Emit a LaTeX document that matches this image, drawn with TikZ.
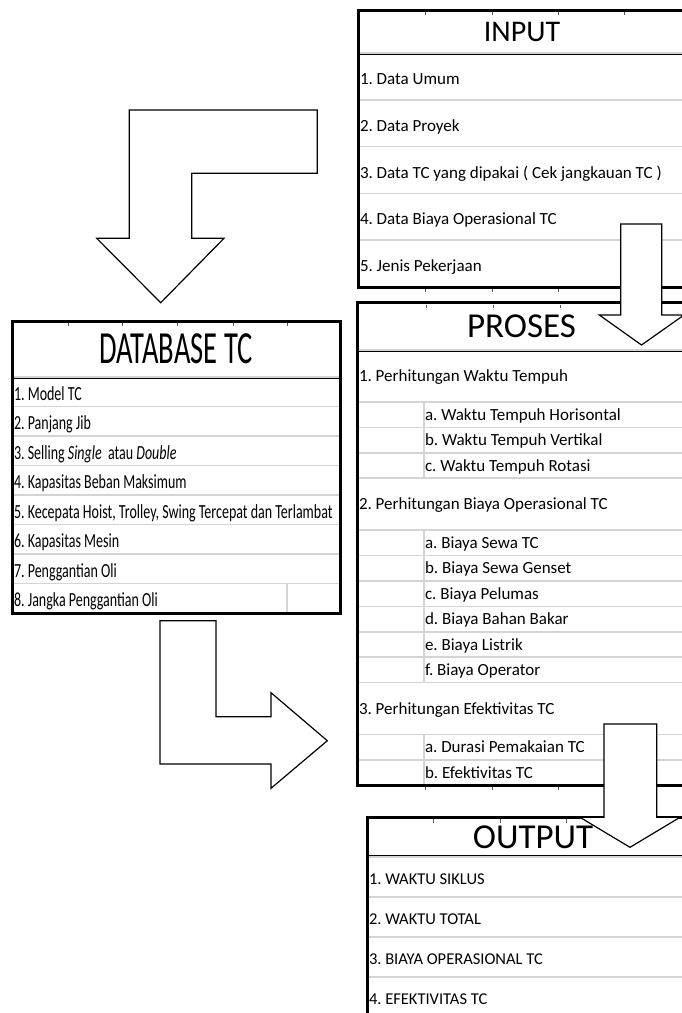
\documentclass[tikz,border=0pt]{standalone}
\usepackage{fontspec}
\setmainfont{Carlito}
\newfontfamily\dbfont[FakeStretch=0.62]{Carlito}
\newfontfamily\dbrowfont[FakeStretch=0.70]{Carlito}
\usepackage{xcolor}
\usetikzlibrary{positioning}
\definecolor{gridgray}{RGB}{212,212,212}
\definecolor{tickgray}{RGB}{90,90,90}

\begin{document}
\frenchspacing
\begin{tikzpicture}[x=1pt, y=-1pt, node distance = 0pt,
  cell/.style={outer sep=0pt, inner xsep=2pt, inner ysep=0pt, align=flush left},
  row/.style={cell, draw=gridgray, line width=1.6pt},
  head/.style={cell, draw=black, line width=3pt, align=flush center, anchor=north west},
  frame/.style={draw=black, line width=3pt},
  gridline/.style={draw=gridgray, line width=1.6pt},
  tick/.style={draw=tickgray, line width=0.8pt},
  bigarrow/.style={draw=black, fill=white, line width=1.2pt, line join=miter},
  inrow/.style={row, text width=324pt, minimum height=46.8pt, font=\fontsize{17}{20}\selectfont, text height=17pt, text depth=1pt},
  dbrow/.style={row, text width=324pt, minimum height=29.5pt, font=\dbrowfont\fontsize{20}{24}\selectfont, text height=18pt, text depth=1pt},
  prow/.style={row, text width=325pt, minimum height=52pt, font=\fontsize{17}{20}\selectfont, text height=14pt, text depth=3pt},
  psub/.style={prow, minimum height=25.4pt, execute at begin node=\hspace*{66pt}},
  outrow/.style={row, text width=328pt, minimum height=40pt, font=\fontsize{16.5}{20}\selectfont, text height=17pt, text depth=1pt}]
\useasboundingbox (0,0) rectangle (682,1013);

% input
\node[head, text width=324pt, minimum height=43pt, font=\fontsize{30}{36}\selectfont] (input) at (358,10) {INPUT};
\node[inrow] (in1) [below=of input] {1. Data Umum};
\node[inrow] (in2) [below=of in1] {2. Data Proyek};
\node[inrow] (in3) [below=of in2] {3. Data TC yang dipakai ( Cek jangkauan TC )};
\node[inrow] (in4) [below=of in3] {4. Data Biaya Operasional TC};
\node[inrow] (in5) [below=of in4] {5. Jenis Pekerjaan};
\draw[frame] (input.north west) rectangle (in5.south east);
\draw[tick] (425,11.5) -- (425,15) (492,11.5) -- (492,15) (558,11.5) -- (558,15) (624,11.5) -- (624,15)
  (425,289) -- (425,292) (492,289) -- (492,292) (558,289) -- (558,292);

% database
\node[head, text width=324pt, minimum height=56pt, font=\dbfont\fontsize{46}{52}\selectfont] (db) at (12,321) {DATABASE TC};
\node[dbrow] (db1) [below=of db] {1. Model TC};
\node[dbrow] (db2) [below=of db1] {2. Panjang Jib};
\node[dbrow] (db3) [below=of db2] {3. Selling \textit{Single}\ \ atau \textit{Double}};
\node[dbrow] (db4) [below=of db3] {4. Kapasitas Beban Maksimum};
\node[dbrow] (db5) [below=of db4] {5. Kecepata Hoist, Trolley, Swing Tercepat dan Terlambat};
\node[dbrow] (db6) [below=of db5] {6. Kapasitas Mesin};
\node[dbrow] (db7) [below=of db6] {7. Penggantian Oli};
\node[dbrow] (db8) [below=of db7] {8. Jangka Penggantian Oli};
\draw[gridline] ([xshift=275pt]db8.north west) -- ([xshift=275pt]db8.south west);
\draw[frame] (db.north west) rectangle (db8.south east);
\draw[tick] (68,322.5) -- (68,326) (122,322.5) -- (122,326) (177,322.5) -- (177,326) (233,322.5) -- (233,326) (287,322.5) -- (287,326);

% proses
\node[head, text width=325pt, minimum height=47.3pt, font=\fontsize{35}{42}\selectfont] (proses) at (357,302.7) {PROSES};
\node[prow] (p1) [below=of proses] {1. Perhitungan Waktu Tempuh};
\node[psub] (p1a) [below=of p1] {a. Waktu Tempuh Horisontal};
\node[psub] (p1b) [below=of p1a] {b. Waktu Tempuh Vertikal};
\node[psub] (p1c) [below=of p1b] {c. Waktu Tempuh Rotasi};
\node[prow] (p2) [below=of p1c] {2. Perhitungan Biaya Operasional TC};
\node[psub] (p2a) [below=of p2] {a. Biaya Sewa TC};
\node[psub] (p2b) [below=of p2a] {b. Biaya Sewa Genset};
\node[psub] (p2c) [below=of p2b] {c. Biaya Pelumas};
\node[psub] (p2d) [below=of p2c] {d. Biaya Bahan Bakar};
\node[psub] (p2e) [below=of p2d] {e. Biaya Listrik};
\node[psub] (p2f) [below=of p2e] {f. Biaya Operator};
\node[prow] (p3) [below=of p2f] {3. Perhitungan Efektivitas TC};
\node[psub] (p3a) [below=of p3] {a. Durasi Pemakaian TC};
\node[psub] (p3b) [below=of p3a] {b. Efektivitas TC};
\draw[gridline] ([xshift=67pt]p1a.north west) -- ([xshift=67pt]p1c.south west);
\draw[gridline] ([xshift=67pt]p2a.north west) -- ([xshift=67pt]p2f.south west);
\draw[gridline] ([xshift=67pt]p3a.north west) -- ([xshift=67pt]p3b.south west);
\draw[frame] (proses.north west) rectangle (p3b.south east);
\draw[tick] (426,304.5) -- (426,308) (493,304.5) -- (493,308) (560,304.5) -- (560,308)
  (425,787) -- (425,790) (492,787) -- (492,790) (558,787) -- (558,790);

% output
\node[head, text width=328pt, minimum height=39.2pt, font=\fontsize{35}{42}\selectfont] (output) at (367,817.5) {OUTPUT};
\node[outrow] (out1) [below=of output] {1. WAKTU SIKLUS};
\node[outrow] (out2) [below=of out1] {2. WAKTU TOTAL};
\node[outrow] (out3) [below=of out2] {3. BIAYA OPERASIONAL TC};
\node[outrow] (out4) [below=of out3] {4. EFEKTIVITAS TC};
\draw[frame] (output.north west) rectangle (out4.south east);
\draw[tick] (433,819) -- (433,822.5) (500,819) -- (500,822.5) (566,819) -- (566,822.5);

% block arrows
\draw[bigarrow] (317.3,110) -- (129.3,110) -- (129.3,238.3) -- (96.7,238.3) -- (160.7,302.7)
  -- (224,238.3) -- (191.7,238.3) -- (191.7,173.3) -- (317.3,173.3) -- cycle;
\draw[bigarrow] (160,620.7) -- (216,620.7) -- (216,716.7) -- (271,716.7) -- (271,692.7)
  -- (327.3,740.7) -- (271,788.3) -- (271,764) -- (160,764) -- cycle;
\draw[bigarrow] (620.7,224) -- (661.7,224) -- (661.7,315) -- (684,315) -- (641.5,345)
  -- (599.3,315) -- (620.7,315) -- cycle;
\draw[bigarrow] (604,724) -- (656.7,724) -- (656.7,817.3) -- (680,817.3) -- (630,847.3)
  -- (580,817.3) -- (604,817.3) -- cycle;
\end{tikzpicture}
\end{document}
